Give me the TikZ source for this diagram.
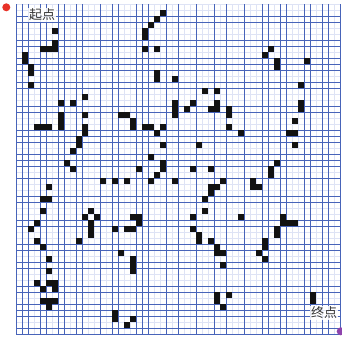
\documentclass[tikz,border=0pt]{standalone}
\usepackage{fontspec}
\newfontfamily\cjk{Noto Sans CJK SC}
\definecolor{strongblue}{RGB}{72,100,185}
\definecolor{faintblue}{RGB}{222,227,245}
\definecolor{startred}{RGB}{232,50,40}
\definecolor{endpurple}{RGB}{142,68,173}
\tikzset{
  faintline/.style={draw=faintblue,line width=0.5pt},
  strongline/.style={draw=strongblue,line width=0.8pt},
  cellfill/.style={fill=black!93},
  lbl/.style={font=\cjk\fontsize{13}{13}\selectfont,text=black!80,fill=white,fill opacity=0.85,text opacity=1,inner sep=1pt}
}
\begin{document}
\begin{tikzpicture}[x=1pt,y=-1pt]
\useasboundingbox (0,0) rectangle (342,338);
\fill[white] (0,0) rectangle (342,338);
% faint grid
\foreach \c in {0,...,54} \draw[faintline] (16+6*\c,4) -- (16+6*\c,334);
\foreach \r in {0,...,55} \draw[faintline] (16,4+6*\r) -- (340,4+6*\r);
% strong grid lines
\foreach \c in {0,1,2,4,5,7,8,10,11,14,16,17,20,21,22,25,27,30,33,35,38,41,42,44,45,48,49,51,52,54}
  \draw[strongline] (16+6*\c,4) -- (16+6*\c,334);
\foreach \r in {2,3,6,7,9,10,11,13,14,17,18,21,22,23,25,26,27,29,32,33,36,37,40,41,43,44,47,48,50,51,52,54,55}
  \draw[strongline] (16,4+6*\r) -- (340,4+6*\r);
% black cells (col/row)
\foreach \c/\r in {
 24/1, 23/2, 22/3, 6/4, 21/4, 21/5, 6/6,
 4/7, 5/7, 6/7, 21/7, 23/7, 42/7,
 1/8, 41/8, 1/9, 43/9, 48/9, 2/10, 43/10,
 2/11, 23/11, 23/12, 26/12, 2/13, 47/13,
 31/14, 33/14, 11/15,
 7/16, 9/16, 26/16, 29/16, 33/16, 47/16,
 26/17, 28/17, 32/17, 33/17, 35/17, 47/17,
 7/18, 11/18, 17/18, 18/18, 26/18, 35/18,
 7/19, 19/19, 46/19,
 3/20, 4/20, 5/20, 7/20, 11/20, 19/20, 21/20, 22/20, 24/20, 35/20,
 11/21, 23/21, 37/21, 45/21, 46/21,
 10/22, 10/23, 24/23, 30/23, 46/23,
 9/24, 22/25, 8/26, 24/26, 43/26,
 9/27, 20/27, 24/27, 29/27, 32/27, 42/27,
 23/28, 42/28,
 14/29, 16/29, 18/29, 22/29, 26/29, 34/29, 39/29,
 5/30, 32/30, 33/30, 39/30, 40/30,
 32/31, 4/32, 5/32, 31/32,
 4/34, 12/34, 31/34,
 11/35, 13/35, 19/35, 20/35, 29/35, 37/35, 44/35,
 3/36, 12/36, 20/36, 44/36, 45/36, 46/36,
 2/37, 12/37, 16/37, 18/37, 19/37, 29/37, 43/37,
 12/38, 30/38, 43/38,
 3/39, 10/39, 30/39, 32/39, 41/39,
 4/40, 33/40, 41/40,
 17/41, 33/41, 34/41, 40/41,
 5/42, 19/42, 41/42,
 19/43, 34/43, 5/44, 19/44,
 3/46, 5/46, 6/46, 4/47, 6/47,
 33/48, 35/48, 49/48,
 4/49, 5/49, 6/49, 33/49, 49/49,
 5/50, 34/50, 16/51, 16/52, 19/52, 18/53}
  \fill[cellfill] (16+6*\c,4+6*\r) rectangle ++(6,6);
% markers and labels
\fill[startred] (6.3,7.3) circle (4);
\node[lbl] (start) at (42,15) {起点};
\node[lbl] (goal) at (324,313) {终点};
\fill[endpurple] (340.7,331.3) circle (4);
\end{tikzpicture}
\end{document}
